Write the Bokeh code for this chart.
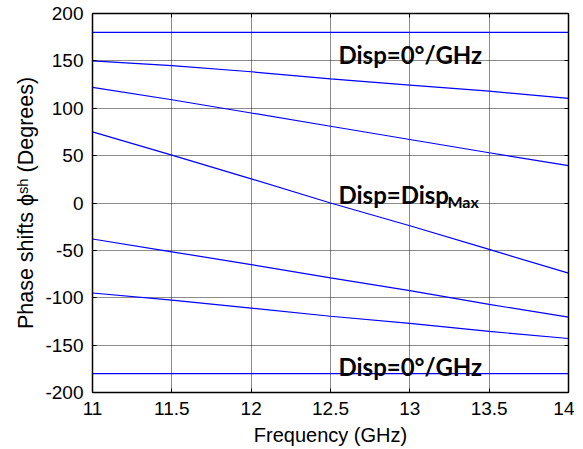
from bokeh.plotting import figure
from bokeh.models import Label, LinearAxis, FixedTicker, Range1d, CustomLabelingPolicy
from bokeh.embed import file_html
from bokeh.resources import INLINE

freq = [11, 11.5, 12, 12.5, 13, 13.5, 14]
phase1 = [180, 180, 180, 180, 180, 180, 180]
phase2 = [150, 145, 138.5, 131, 124.5, 118, 110.5]
phase3 = [122, 109, 95, 81, 67, 53, 39.5]
phase4 = [75, 50.5, 25.5, 0, -24, -49, -74]
phase5 = [-38, -51.5, -65, -79, -92.5, -107, -120.5]
phase6 = [-95, -102.5, -111, -119.5, -127, -135.5, -143]
phase7 = [-180, -180, -180, -180, -180, -180, -180]
series = [phase1, phase2, phase3, phase4, phase5, phase6, phase7]

xticks = [11, 11.5, 12, 12.5, 13, 13.5, 14]
xtick_labels = ["11", "11.5", "12", "12.5", "13", "13.5", "14"]
yticks = [-200, -150, -100, -50, 0, 50, 100, 150, 200]
ytick_labels = ["-200", "-150", "-100", "-50", "0", "50", "100", "150", "200"]

p = figure(frame_width=476, frame_height=379, x_range=Range1d(11, 14), y_range=Range1d(-200, 200),
           output_backend="svg", toolbar_location=None,
           min_border_left=92, min_border_right=6, min_border_top=13, min_border_bottom=40)
p.outline_line_color = None
p.background_fill_color = "white"
p.border_fill_color = "white"

for ys in series:
    p.line(freq, ys, line_color="#0000ff", line_width=1.2)

FONT = "Liberation Sans"
hide_labels = CustomLabelingPolicy(code="""
try { for (let i = 0; i < indices.size; i++) { indices.unset(i) } } catch (e) {}
return indices
""")

def style_axis(ax, labels=True):
    ax.axis_line_color = "black"
    ax.axis_line_width = 1.5
    ax.major_tick_in = 4
    ax.major_tick_out = 0
    ax.minor_tick_line_color = None
    ax.major_tick_line_color = "black"
    if labels:
        ax.major_label_text_font = FONT
        ax.major_label_text_font_size = "19px"
        ax.major_label_text_color = "black"
    else:
        ax.major_label_text_font_size = "0px"
        ax.major_label_standoff = 0
        ax.major_label_policy = hide_labels

xa = p.xaxis[0]
xa.ticker = FixedTicker(ticks=xticks)
xa.major_label_overrides = dict(zip(xticks, xtick_labels))
style_axis(xa)
xa.major_label_standoff = 9
xa.axis_label = "Frequency (GHz)"
xa.axis_label_text_font = FONT
xa.axis_label_text_font_size = "20px"
xa.axis_label_text_font_style = "normal"
xa.axis_label_text_color = "black"
xa.axis_label_standoff = 6

ya = p.yaxis[0]
ya.ticker = FixedTicker(ticks=yticks)
ya.major_label_overrides = dict(zip(yticks, ytick_labels))
style_axis(ya)
ya.major_label_standoff = 9
ya.axis_label = "Phase shifts \u03d5\u02e2\u02b0 (Degrees)"
ya.axis_label_text_font = FONT
ya.axis_label_text_font_size = "21.5px"
ya.axis_label_text_font_style = "normal"
ya.axis_label_text_color = "black"
ya.axis_label_standoff = 4

ra = LinearAxis(ticker=FixedTicker(ticks=yticks))
style_axis(ra, labels=False)
p.add_layout(ra, "right")
ta = LinearAxis(ticker=FixedTicker(ticks=xticks))
style_axis(ta, labels=False)
p.add_layout(ta, "above")

p.grid.grid_line_color = "black"
p.grid.grid_line_dash = "1 1"
p.grid.grid_line_alpha = 0.9
p.grid.grid_line_width = 1
p.xgrid.ticker = FixedTicker(ticks=xticks)
p.ygrid.ticker = FixedTicker(ticks=yticks)

ANN = "Lato"
p.add_layout(Label(x=12.55, y=156.7, text="Disp=0\u00b0/GHz", text_font=ANN,
                   text_font_style="bold", text_font_size="24px", text_baseline="alphabetic",
                   text_color="black"))
p.add_layout(Label(x=12.55, y=-172.2, text="Disp=0\u00b0/GHz", text_font=ANN,
                   text_font_style="bold", text_font_size="24px", text_baseline="alphabetic",
                   text_color="black"))
p.add_layout(Label(x=12.55, y=9.0, text="Disp=Disp", text_font=ANN,
                   text_font_style="bold", text_font_size="24px", text_baseline="alphabetic",
                   text_color="black"))
p.add_layout(Label(x=12.55, y=9.0, x_offset=109, y_offset=-7, text="Max", text_font=ANN,
                   text_font_style="bold", text_font_size="16px", text_baseline="alphabetic",
                   text_color="black"))

open("out.html", "w").write(file_html(p, INLINE))
